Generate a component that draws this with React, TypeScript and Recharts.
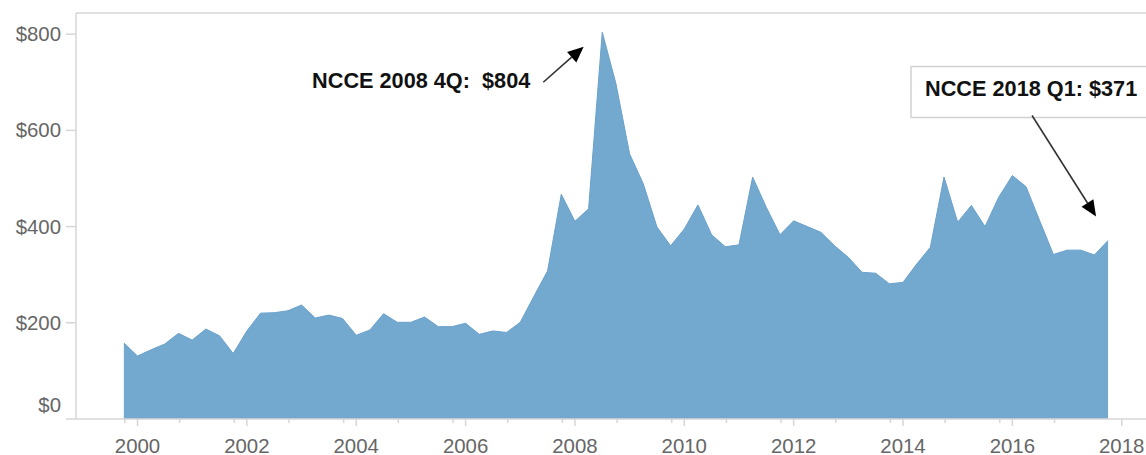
import { AreaChart, Area, XAxis, YAxis, ReferenceLine, ReferenceDot } from 'recharts';

// quarterly cost, $ per unit
const quarters = [
  '1999 Q4',
  '2000 Q1', '2000 Q2', '2000 Q3', '2000 Q4',
  '2001 Q1', '2001 Q2', '2001 Q3', '2001 Q4',
  '2002 Q1', '2002 Q2', '2002 Q3', '2002 Q4',
  '2003 Q1', '2003 Q2', '2003 Q3', '2003 Q4',
  '2004 Q1', '2004 Q2', '2004 Q3', '2004 Q4',
  '2005 Q1', '2005 Q2', '2005 Q3', '2005 Q4',
  '2006 Q1', '2006 Q2', '2006 Q3', '2006 Q4',
  '2007 Q1', '2007 Q2', '2007 Q3', '2007 Q4',
  '2008 Q1', '2008 Q2', '2008 Q3', '2008 Q4',
  '2009 Q1', '2009 Q2', '2009 Q3', '2009 Q4',
  '2010 Q1', '2010 Q2', '2010 Q3', '2010 Q4',
  '2011 Q1', '2011 Q2', '2011 Q3', '2011 Q4',
  '2012 Q1', '2012 Q2', '2012 Q3', '2012 Q4',
  '2013 Q1', '2013 Q2', '2013 Q3', '2013 Q4',
  '2014 Q1', '2014 Q2', '2014 Q3', '2014 Q4',
  '2015 Q1', '2015 Q2', '2015 Q3', '2015 Q4',
  '2016 Q1', '2016 Q2', '2016 Q3', '2016 Q4',
  '2017 Q1', '2017 Q2', '2017 Q3', '2017 Q4',
];

const ncce = [
  158,
  131, 144, 156, 178,
  164, 187, 173, 136,
  183, 220, 221, 225,
  237, 210, 216, 209,
  174, 185, 219, 201,
  201, 212, 192, 192,
  199, 176, 183, 180,
  201, 255, 308, 467,
  411, 437, 804, 697,
  551, 489, 399, 360,
  395, 445, 383, 358,
  362, 503, 440, 383,
  412, 400, 388, 360,
  336, 305, 303, 281,
  284, 322, 357, 503,
  409, 444, 400, 461,
  506, 483, 412, 342,
  351, 351, 341, 371,
];

const yearTicks = [2000, 2002, 2004, 2006, 2008, 2010, 2012, 2014, 2016, 2018];
const minorTicks = [
  1999.77, 2000.77, 2001.77, 2002.77, 2003.77, 2004.77, 2005.77, 2006.77, 2007.77,
  2008.77, 2009.77, 2010.77, 2011.77, 2012.77, 2013.77, 2014.77, 2015.77, 2016.77,
];
const valueTicks = [0, 200, 400, 600, 800];

const toYear = (q: string) => {
  const [y, qq] = q.split(' Q');
  return Number(y) + (Number(qq) - 1) / 4;
};

const data = quarters.map((q, i) => ({ t: toYear(q), cost: ncce[i] }));
const peakIdx = ncce.indexOf(Math.max(...ncce));
const lastIdx = ncce.length - 1;

const AXIS_GRAY = '#d6d6d6';
const LABEL_GRAY = '#666';
const FONT = '"Liberation Sans", Arial, sans-serif';

function Arrow({ x1, y1, x2, y2 }: { x1: number; y1: number; x2: number; y2: number }) {
  const dx = x2 - x1;
  const dy = y2 - y1;
  const len = Math.sqrt(dx * dx + dy * dy);
  const ux = dx / len;
  const uy = dy / len;
  const head = 16;
  const half = 7;
  const bx = x2 - ux * head;
  const by = y2 - uy * head;
  return (
    <g>
      <line x1={x1} y1={y1} x2={bx} y2={by} stroke="#333" strokeWidth={1.6} />
      <polygon
        points={`${x2},${y2} ${bx - uy * half},${by + ux * half} ${bx + uy * half},${by - ux * half}`}
        fill="#000"
      />
    </g>
  );
}

const PeakNote = (props: any) => {
  const { cx, cy } = props;
  return (
    <g>
      <text
        x={cx - 72}
        y={cy + 55.5}
        textAnchor="end"
        fontFamily={FONT}
        fontWeight="bold"
        fontSize={21.7}
        fill="#111"
        style={{ whiteSpace: 'pre' }}
      >
        {`NCCE 2008 4Q:  $${ncce[peakIdx]}`}
      </text>
      <Arrow x1={cx - 59} y1={cy + 50} x2={cx - 18.6} y2={cy + 14.4} />
    </g>
  );
};

const LastNote = (props: any) => {
  const { cx, cy } = props;
  return (
    <g>
      <rect x={cx - 197} y={cy - 174} width={260} height={51} fill="#fff" stroke="#d2d2d2" strokeWidth={1.5} />
      <text x={cx - 183} y={cy - 144.5} fontFamily={FONT} fontWeight="bold" fontSize={21.7} fill="#111">
        {`NCCE 2018 Q1: $${ncce[lastIdx]}`}
      </text>
      <Arrow x1={cx - 76} y1={cy - 125} x2={cx - 12} y2={cy - 24} />
    </g>
  );
};

const XTick = (props: any) => {
  const { x, y, payload } = props;
  const major = yearTicks.includes(payload.value);
  return (
    <g>
      <line x1={x} y1={y} x2={x} y2={y + (major ? 7 : 4)} stroke={AXIS_GRAY} strokeWidth={1.5} />
      {major && (
        <text x={x} y={y + 33.5} textAnchor="middle" fontFamily={FONT} fontSize={20.4} fill={LABEL_GRAY}>
          {payload.value}
        </text>
      )}
    </g>
  );
};

const YTick = (props: any) => {
  const { x, y, payload } = props;
  const shift = payload.value === 0 ? -14 : 0;
  return (
    <text x={x} y={y + shift + 7} textAnchor="end" fontFamily={FONT} fontSize={20.4} fill={LABEL_GRAY}>
      {`$${payload.value}`}
    </text>
  );
};

export default function App() {
  return (
    <div style={{ width: 1146, height: 455 }}>
      <style>{`body{margin:0;background:#fff}`}</style>
      <AreaChart width={1146} height={455} data={data} margin={{ top: 13, right: 0, bottom: 0, left: 0 }}>
        <XAxis
          dataKey="t"
          type="number"
          domain={[1998.875, 2018.444]}
          ticks={[...yearTicks, ...minorTicks].sort((a, b) => a - b)}
          interval={0}
          height={36}
          tick={<XTick />}
          tickLine={false}
          tickSize={0}
          tickMargin={0}
          axisLine={{ stroke: AXIS_GRAY, strokeWidth: 1.5 }}
          allowDataOverflow
        />
        <YAxis
          type="number"
          domain={[0, 844]}
          ticks={valueTicks}
          interval={0}
          width={76}
          tick={<YTick />}
          tickSize={10}
          tickMargin={5}
          tickLine={{ stroke: AXIS_GRAY, strokeWidth: 1.5 }}
          axisLine={{ stroke: AXIS_GRAY, strokeWidth: 1.5 }}
          allowDataOverflow
        />
        <ReferenceLine y={844} stroke={AXIS_GRAY} strokeWidth={1.5} />
        <Area
          type="linear"
          dataKey="cost"
          stroke="#6aa1cb"
          strokeWidth={1}
          fill="#74a9cf"
          fillOpacity={1}
          isAnimationActive={false}
        />
        <ReferenceDot x={data[peakIdx].t} y={ncce[peakIdx]} shape={PeakNote} ifOverflow="visible" />
        <ReferenceDot x={data[lastIdx].t} y={ncce[lastIdx]} shape={LastNote} ifOverflow="visible" />
      </AreaChart>
    </div>
  );
}
